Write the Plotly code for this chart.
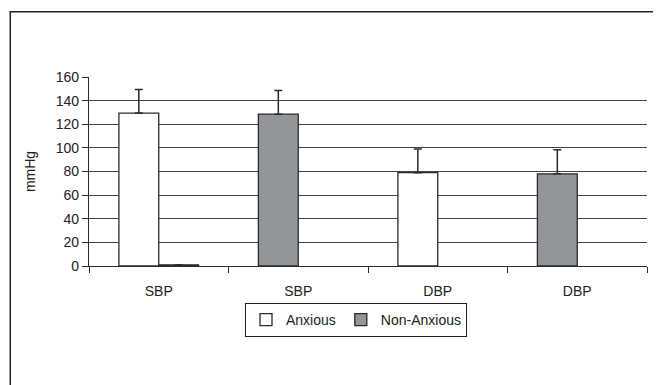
import plotly.graph_objects as go

categories = ["SBP", "SBP", "DBP", "DBP"]
anxious = [129.5, None, 79, None]
anxious_err = [20, None, 20, None]
non_anxious = [1, 128.5, None, 78]
non_anxious_err = [0, 20, None, 20.4]

keys = [f"{c}_{i}" for i, c in enumerate(categories)]
W = 0.2857
non_offset = [0 if a is not None else -W for a in anxious]

FONT = "Liberation Sans, Arial, sans-serif"
EDGE = "#2b2b2b"

fig = go.Figure()
fig.add_trace(go.Bar(
    x=keys, y=anxious, name="Anxious",
    width=W, offset=-W,
    marker=dict(color="white", line=dict(color=EDGE, width=1.3)),
    error_y=dict(type="data", array=anxious_err, symmetric=False,
                 arrayminus=[0, 0, 0, 0], color=EDGE, thickness=1.5, width=4),
))
fig.add_trace(go.Bar(
    x=keys, y=non_anxious, name="Non-Anxious",
    width=W, offset=non_offset,
    marker=dict(color="#939598", line=dict(color=EDGE, width=1.3)),
    error_y=dict(type="data", array=non_anxious_err, symmetric=False,
                 arrayminus=[0, 0, 0, 0], color=EDGE, thickness=1.5, width=4),
))

# page body adds an 8px margin, so the figure is laid out 8px up/left
FW, FH = 653, 377
L, R, T, B = 81, 14, 69, 119
PW, PH = FW - L - R, FH - T - B
fig.update_layout(
    width=FW, height=FH,
    margin=dict(l=L, r=R, t=T, b=B),
    paper_bgcolor="white", plot_bgcolor="white",
    barmode="overlay",
    font=dict(family=FONT, size=14, color="#222"),
    showlegend=True,
    legend=dict(orientation="h", x=(348 - L) / PW, xanchor="center",
                y=(FH - B - 295) / PH, yanchor="top",
                bordercolor="#222", borderwidth=1, font=dict(size=14, color="#222"),
                tracegroupgap=0),
    xaxis=dict(type="category", tickmode="array", tickvals=keys, ticktext=categories,
               tickson="boundaries", ticks="outside", ticklen=6, tickcolor=EDGE,
               showline=True, linecolor=EDGE, linewidth=1.3, showgrid=False,
               ticklabelstandoff=12, range=[-0.5, 3.5]),
    yaxis=dict(range=[0, 160], tickvals=list(range(0, 161, 20)), ticks="outside",
               ticklen=6, tickcolor=EDGE, showline=True, linecolor=EDGE, linewidth=1.3,
               showgrid=True, gridcolor="#444", gridwidth=1.3, zeroline=False,
               title=dict(text="mmHg", font=dict(size=14), standoff=16)),
    shapes=[dict(type="rect", xref="paper", yref="paper",
                 x0=(2.3 - L) / PW, x1=1.3, y0=-1.5, y1=(FH - B - 3.7) / PH,
                 line=dict(color="#222", width=1.5), layer="above")],
)

fig.write_html("out.html")
